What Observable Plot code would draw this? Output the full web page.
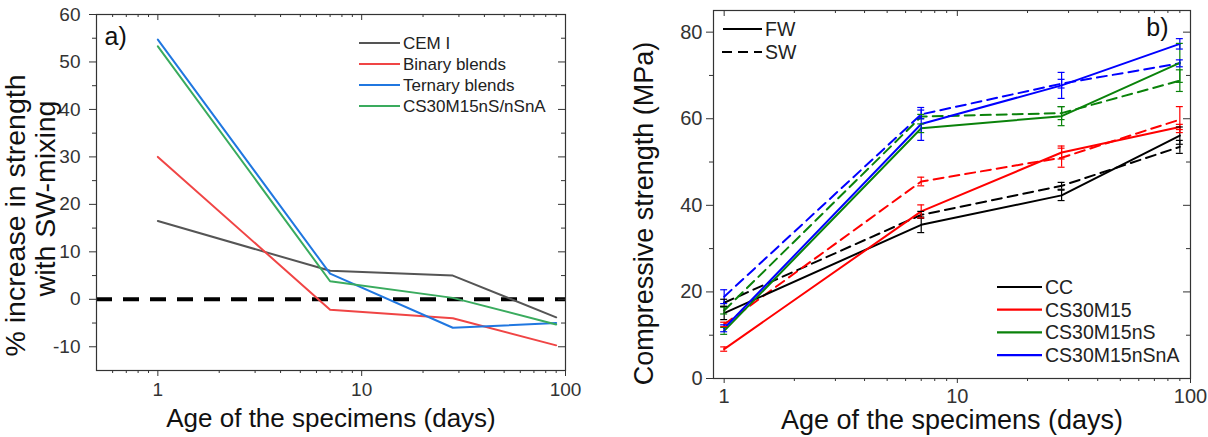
<!DOCTYPE html>
<html><head><meta charset="utf-8">
<script src="https://cdn.jsdelivr.net/npm/d3@7"></script>
<script src="https://cdn.jsdelivr.net/npm/@observablehq/plot@0.6"></script>
<style>
body{margin:0;background:#fff;font-family:"Liberation Sans",Arial,sans-serif;}
#wrap{position:relative;width:1208px;height:437px;overflow:hidden;background:#fff;}
#pa{position:absolute;left:0;top:0;}
#pb{position:absolute;left:600px;top:0;}
#leg{position:absolute;left:0;top:0;pointer-events:none;}
</style></head>
<body><div id="wrap"><div id="pa"></div><div id="pb"></div><svg id="leg" width="1208" height="437"></svg></div>
<script>
// ---------- shared ----------
const ages = [1, 7, 28, 90];
const xMajor = [1, 10, 100];
const xMinorA = [0.6, 0.7, 0.8, 0.9, 2, 3, 4, 5, 6, 7, 8, 9, 20, 30, 40, 50, 60, 70, 80, 90];
const xMinorB = [2, 3, 4, 5, 6, 7, 8, 9, 20, 30, 40, 50, 60, 70, 80, 90];

// ---------- panel a ----------
const seriesA = ["CEM I", "Binary blends", "Ternary blends", "CS30M15nS/nSnA"];
const colorsA = ["#555555", "#f04545", "#2077e0", "#3aab5e"];
const cemI    = [16.5, 6.0, 5.0, -3.8];
const binary  = [30.0, -2.2, -4.0, -9.7];
const ternary = [54.7, 5.4, -6.0, -5.0];
const nsnsna  = [53.3, 3.8, 0.3, -5.3];
const yMajorA = [-10, 0, 10, 20, 30, 40, 50, 60];
const yMinorA = [-5, 5, 15, 25, 35, 45, 55];
const titleA = ["% increase in strength", "with SW-mixing"];

// ---------- panel b ----------
const groupsB = ["CC", "CS30M15", "CS30M15nS", "CS30M15nSnA"];
const colorsB = ["#000000", "#ff0000", "#0a820a", "#0000ff"];
const ccFW   = [15.1, 35.5, 42.3, 56.1];
const ccSW   = [17.5, 37.8, 44.5, 53.5];
const m15FW  = [6.8, 38.6, 52.2, 58.1];
const m15SW  = [12.5, 45.5, 51.0, 59.8];
const nsFW   = [11.0, 57.8, 60.6, 72.9];
const nsSW   = [15.7, 60.5, 61.3, 68.8];
const nsnaFW = [11.6, 58.8, 67.7, 77.3];
const nsnaSW = [18.9, 61.0, 68.1, 72.8];
const ccFWerr   = [1.5, 1.8, 1.2, 2.0];
const ccSWerr   = [0.8, 0.8, 0.8, 1.5];
const m15FWerr  = [0.5, 1.5, 1.5, 0.6];
const m15SWerr  = [0.5, 1.0, 2.2, 3.0];
const nsFWerr   = [0.8, 1.0, 2.2, 4.5];
const nsSWerr   = [0.8, 0.5, 1.5, 2.5];
const nsnaFWerr = [0.8, 3.8, 3.0, 1.2];
const nsnaSWerr = [1.6, 1.0, 1.0, 0.8];
const yMajorB = [0, 20, 40, 60, 80];
const yMinorB = [10, 30, 50, 70];

const FONT = '"Liberation Sans", Arial, sans-serif';
const AX = "#333";

// ---------- build panel a ----------
const valsA = [cemI, binary, ternary, nsnsna];
const rowsA = [];
seriesA.forEach((s, i) => ages.forEach((a, j) => rowsA.push({series: s, color: colorsA[i], age: a, value: valsA[i][j]})));

const WA = 600, HA = 437, mA = {l: 96, r: 35, t: 14, b: 67};
const innerHA = HA - mA.t - mA.b, innerWA = WA - mA.l - mA.r;
const plotA = Plot.plot({
  width: WA, height: HA,
  marginLeft: mA.l, marginRight: mA.r, marginTop: mA.t, marginBottom: mA.b,
  style: {fontFamily: FONT, fontSize: "19px", color: AX, background: "transparent", overflow: "visible"},
  x: {type: "log", domain: [0.5, 100], label: null},
  y: {domain: [-15, 60], label: null},
  color: {type: "identity"},
  marks: [
    Plot.ruleY([0], {stroke: "#000", strokeWidth: 4, strokeDasharray: "16,11"}),
    Plot.line(rowsA, {x: "age", y: "value", z: "series", stroke: "color", strokeWidth: 2}),
    Plot.frame({stroke: AX, strokeWidth: 1.2}),
    Plot.axisX({ticks: xMajor, tickSize: 6, tickPadding: 6, tickFormat: d => String(d), label: null, stroke: AX, fill: AX}),
    Plot.axisX({ticks: xMinorA, tickSize: 3, tickFormat: () => "", label: null, stroke: AX}),
    Plot.axisY({ticks: yMajorA, tickSize: 7, tickPadding: 9, tickFormat: d => String(d), label: null, stroke: AX, fill: AX}),
    Plot.axisY({ticks: yMinorA, tickSize: 4, tickFormat: () => "", label: null, stroke: AX}),
    Plot.tickX(xMajor, {x: d => d, insetBottom: innerHA - 6, stroke: AX}),
    Plot.tickX(xMinorA, {x: d => d, insetBottom: innerHA - 3, stroke: AX}),
    Plot.tickY(yMajorA, {y: d => d, insetLeft: innerWA - 7, stroke: AX}),
    Plot.tickY(yMinorA, {y: d => d, insetLeft: innerWA - 4, stroke: AX}),
    Plot.text(["a)"], {frameAnchor: "top-left", dx: 8, dy: 13, lineAnchor: "top", textAnchor: "start", fontSize: 25, fill: "#111"}),
    Plot.text(["Age of the specimens (days)"], {frameAnchor: "bottom", dy: 56, lineAnchor: "bottom", textAnchor: "middle", fontSize: 26, fill: "#111"}),
    Plot.text([titleA[0]], {frameAnchor: "left", dx: -81, dy: 23, rotate: -90, textAnchor: "middle", lineAnchor: "middle", fontSize: 28.5, fill: "#111"}),
    Plot.text([titleA[1]], {frameAnchor: "left", dx: -51, dy: 6, rotate: -90, textAnchor: "middle", lineAnchor: "middle", fontSize: 28.5, fill: "#111"})
  ]
});
document.getElementById("pa").appendChild(plotA);

// ---------- build panel b ----------
const fwVals = [ccFW, m15FW, nsFW, nsnaFW], swVals = [ccSW, m15SW, nsSW, nsnaSW];
const fwErr = [ccFWerr, m15FWerr, nsFWerr, nsnaFWerr], swErr = [ccSWerr, m15SWerr, nsSWerr, nsnaSWerr];
const rowsB = [];
groupsB.forEach((g, i) => ages.forEach((a, j) => {
  rowsB.push({group: g, water: "FW", color: colorsB[i], age: a, value: fwVals[i][j], err: fwErr[i][j]});
  rowsB.push({group: g, water: "SW", color: colorsB[i], age: a, value: swVals[i][j], err: swErr[i][j]});
}));
const fw = rowsB.filter(d => d.water === "FW"), sw = rowsB.filter(d => d.water === "SW");

const WB = 608, HB = 437, mB = {l: 113, r: 18, t: 10, b: 59};
const innerHB = HB - mB.t - mB.b, innerWB = WB - mB.l - mB.r;
const cap = 1.035;
const plotB = Plot.plot({
  width: WB, height: HB,
  marginLeft: mB.l, marginRight: mB.r, marginTop: mB.t, marginBottom: mB.b,
  style: {fontFamily: FONT, fontSize: "20px", color: AX, background: "transparent", overflow: "visible"},
  x: {type: "log", domain: [0.9, 100], label: null},
  y: {domain: [0, 85], label: null},
  color: {type: "identity"},
  marks: [
    Plot.line(sw, {x: "age", y: "value", z: "group", stroke: "color", strokeWidth: 2, strokeDasharray: "10,6"}),
    Plot.line(fw, {x: "age", y: "value", z: "group", stroke: "color", strokeWidth: 2}),
    Plot.ruleX(rowsB, {x: "age", y1: d => d.value - d.err, y2: d => d.value + d.err, stroke: "color", strokeWidth: 1.2}),
    Plot.ruleY(rowsB, {y: d => d.value + d.err, x1: d => d.age / cap, x2: d => d.age * cap, stroke: "color", strokeWidth: 1.2}),
    Plot.ruleY(rowsB, {y: d => d.value - d.err, x1: d => d.age / cap, x2: d => d.age * cap, stroke: "color", strokeWidth: 1.2}),
    Plot.frame({stroke: AX, strokeWidth: 1.2}),
    Plot.axisX({ticks: xMajor, tickSize: 5, tickPadding: 5, tickFormat: d => String(d), label: null, stroke: AX, fill: AX}),
    Plot.axisX({ticks: xMinorB, tickSize: 3, tickFormat: () => "", label: null, stroke: AX}),
    Plot.axisY({ticks: yMajorB, tickSize: 7, tickPadding: 4, tickFormat: d => String(d), label: null, stroke: AX, fill: AX}),
    Plot.axisY({ticks: yMinorB, tickSize: 4, tickFormat: () => "", label: null, stroke: AX}),
    Plot.tickX(xMajor, {x: d => d, insetBottom: innerHB - 6, stroke: AX}),
    Plot.tickX(xMinorB, {x: d => d, insetBottom: innerHB - 3, stroke: AX}),
    Plot.tickY(yMajorB, {y: d => d, insetLeft: innerWB - 7, stroke: AX}),
    Plot.tickY(yMinorB, {y: d => d, insetLeft: innerWB - 4, stroke: AX}),
    Plot.text(["b)"], {frameAnchor: "top-right", dx: -22, dy: 8, lineAnchor: "top", textAnchor: "end", fontSize: 25, fill: "#111"}),
    Plot.text(["Age of the specimens (days)"], {frameAnchor: "bottom", dy: 50, lineAnchor: "bottom", textAnchor: "middle", fontSize: 27, fill: "#111"}),
    Plot.text(["Compressive strength (MPa)"], {frameAnchor: "left", dx: -69, dy: 19, rotate: -90, textAnchor: "middle", lineAnchor: "middle", fontSize: 27, fill: "#111"})
  ]
});
document.getElementById("pb").appendChild(plotB);

// ---------- legends (overlay) ----------
const leg = d3.select("#leg").style("font-family", FONT);
function entry(x1, x2, y, color, label, size, dash) {
  leg.append("line").attr("x1", x1).attr("x2", x2).attr("y1", y).attr("y2", y)
    .attr("stroke", color).attr("stroke-width", 2.2).attr("stroke-dasharray", dash || null);
  leg.append("text").attr("x", x2 + 3).attr("y", y).attr("dy", "0.36em")
    .attr("font-size", size).attr("fill", "#222").text(label);
}
seriesA.forEach((s, i) => entry(359, 400, 43 + i * 21, colorsA[i], s, 17));
groupsB.forEach((g, i) => entry(997, 1042, 287 + i * 22.7, colorsB[i], g, 19.5));
entry(723, 762, 29, "#000", "FW", 19.5);
entry(722, 762, 52, "#000", "SW", 19.5, "10,6");
</script>
</body></html>
